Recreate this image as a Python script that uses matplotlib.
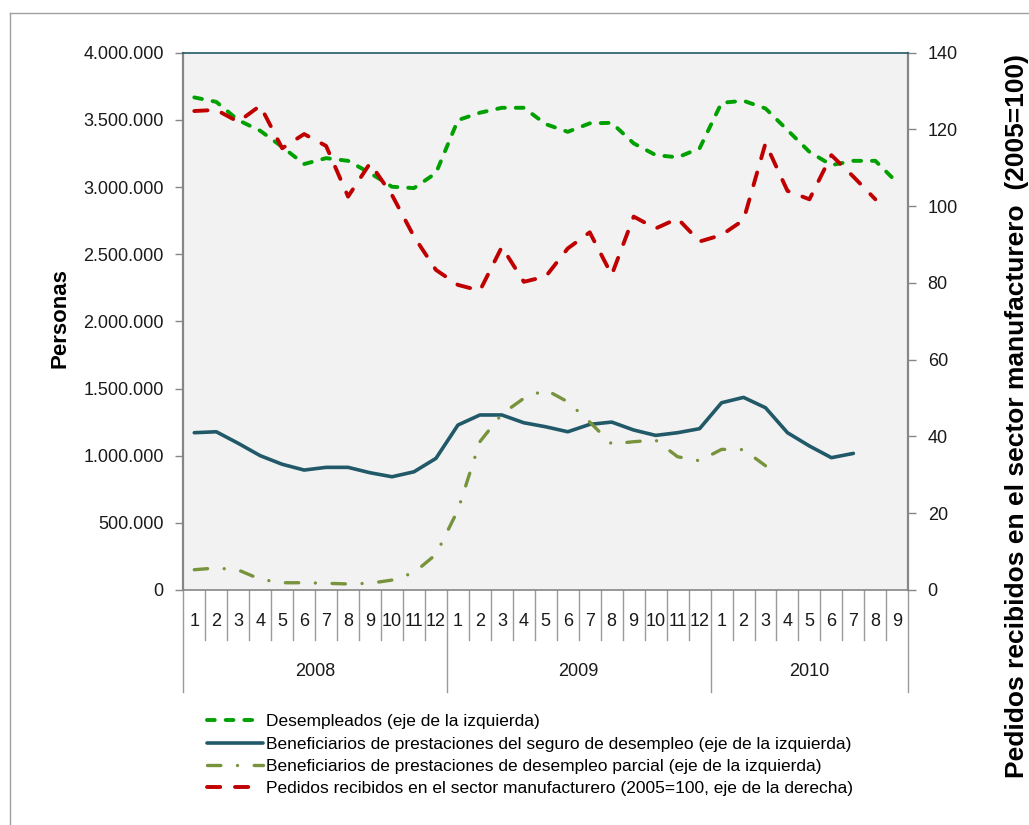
import numpy as np
import matplotlib
matplotlib.use('Agg')
from matplotlib import pyplot as plt
from matplotlib.lines import Line2D
from matplotlib.ticker import FuncFormatter, MultipleLocator

plt.rcParams['font.family'] = ['Liberation Sans', 'DejaVu Sans']

years = ['2008', '2009', '2010']
months_per_year = [12, 12, 9]
month_labels = [str(m) for n in months_per_year for m in range(1, n + 1)]

# personas (eje izquierdo)
desempleados = [3667000, 3634000, 3498000, 3419000, 3299000, 3171000, 3215000, 3195000,
                3104000, 3002000, 2992000, 3104000,
                3498000, 3553000, 3590000, 3590000, 3468000, 3411000, 3474000, 3478000,
                3325000, 3238000, 3221000, 3288000,
                3627000, 3642000, 3585000, 3424000, 3262000, 3163000, 3195000, 3195000, 3032000]
beneficiarios = [1171000, 1178000, 1092000, 1000000, 936000, 893000, 913000, 913000,
                 873000, 843000, 880000, 980000,
                 1228000, 1303000, 1303000, 1245000, 1215000, 1178000, 1233000, 1250000,
                 1191000, 1151000, 1171000, 1201000,
                 1394000, 1434000, 1357000, 1171000, 1072000, 985000, 1017000]
parcial = [151000, 164000, 149000, 80000, 54000, 54000, 50000, 45000, 50000, 74000, 129000, 265000,
           595000, 1104000, 1310000, 1427000, 1490000, 1401000, 1250000, 1087000,
           1104000, 1116000, 992000, 962000,
           1047000, 1045000, 925000]
# indice 2005=100 (eje derecho)
pedidos = [124.8, 125.1, 122.0, 126.2, 115.1, 118.8, 115.7, 102.5, 111.2, 102.9, 92.1, 83.4,
           79.5, 78.0, 89.4, 80.3, 81.7, 89.0, 93.2, 82.1, 97.3, 94.2, 96.8, 90.8,
           92.5, 96.4, 116.4, 104.0, 101.8, 113.3, 107.7, 101.8]

labels = ['Desempleados (eje de la izquierda)',
          'Beneficiarios de prestaciones del seguro de desempleo (eje de la izquierda)',
          'Beneficiarios de prestaciones de desempleo parcial (eje de la izquierda)',
          'Pedidos recibidos en el sector manufacturero (2005=100, eje de la derecha)']

W, H = 1029, 825
fig = plt.figure(figsize=(W / 100, H / 100), dpi=100)
ax = fig.add_axes([183.3 / W, 1 - 590 / H, 725 / W, 537.3 / H])
ax.set_facecolor('#F2F2F2')
ax2 = ax.twinx()

n = len(month_labels)
l1, = ax.plot(np.arange(len(desempleados)), desempleados, color='#00A000', lw=2.8,
              linestyle=(0, (2.0, 2.8)), dash_capstyle='round')
l2, = ax.plot(np.arange(len(beneficiarios)), beneficiarios, color='#215968', lw=2.6,
              solid_capstyle='round', solid_joinstyle='round')
l3, = ax.plot(np.arange(len(parcial)), parcial, color='#77933C', lw=2.4,
              linestyle=(0, (4.0, 5.0, 0.01, 5.0)), dash_capstyle='round')
l4, = ax2.plot(np.arange(len(pedidos)), pedidos, color='#C00000', lw=2.8,
               linestyle=(0, (3.4, 3.8)), dash_capstyle='round')

ax.set_xlim(-0.5, n - 0.5)
ax.set_ylim(0, 4000000)
ax2.set_ylim(0, 140)
ax.yaxis.set_major_locator(MultipleLocator(500000))
ax2.yaxis.set_major_locator(MultipleLocator(20))
ax.yaxis.set_major_formatter(FuncFormatter(lambda v, p: f'{int(v):,}'.replace(',', '.')))
ax.set_xticks([])
ax2.set_xticks([])

for a in (ax, ax2):
    for s in a.spines.values():
        s.set_visible(False)
for side in ('left', 'right', 'bottom'):
    ax2.spines[side].set_visible(True)
    ax2.spines[side].set_color('#868686')
    ax2.spines[side].set_linewidth(1.6)
ax2.spines['bottom'].set_linewidth(1.2)
ax2.spines['top'].set_visible(True)
ax2.spines['top'].set_color('#215968')
ax2.spines['top'].set_linewidth(1.2)

for a in (ax, ax2):
    a.tick_params(axis='y', direction='out', length=6, width=1, color='#868686',
                  labelsize=13, labelcolor='#1a1a1a', pad=8)

# eje de categorias de dos niveles
trans = ax.get_xaxis_transform()
ph = 537.3
for b in np.arange(-0.5, n):
    full = b in (-0.5, 11.5, 23.5, n - 0.5)
    depth = 102 if full else 50
    ax.add_line(Line2D([b, b], [0, -depth / ph], transform=trans, color='#9A9A9A',
                       lw=1, clip_on=False))
for i, m in enumerate(month_labels):
    ax.text(i, -32 / ph, m, transform=trans, ha='center', va='center', fontsize=13,
            color='#1a1a1a')
start = 0
for y, k in zip(years, months_per_year):
    ax.text(start + (k - 1) / 2, -82 / ph, y, transform=trans, ha='center', va='center',
            fontsize=13, color='#1a1a1a')
    start += k

fig.text(60 / W, 1 - 318 / H, 'Personas', rotation=90, ha='center', va='center',
         fontsize=16, fontweight='bold')
fig.text(1017 / W, 1 - 54 / H, 'Pedidos recibidos en el sector manufacturero  (2005=100)',
         rotation=90, ha='center', va='top', fontsize=19, fontweight='bold')

fig.legend([l1, l2, l3, l4], labels, loc='upper left', bbox_to_anchor=(207 / W, 1 - 714 / H),
           frameon=False, prop={'size': 12.5}, handlelength=3.2,
           handletextpad=0.2, labelspacing=0.42, borderaxespad=0, borderpad=0)

fig.add_artist(Line2D([10 / W, 10 / W], [0, 1 - 13 / H], transform=fig.transFigure,
                      color='#A0A0A0', lw=1))
fig.add_artist(Line2D([10 / W, 1], [1 - 13 / H, 1 - 13 / H], transform=fig.transFigure,
                      color='#A0A0A0', lw=1))

fig.savefig('out.png', dpi=100)
